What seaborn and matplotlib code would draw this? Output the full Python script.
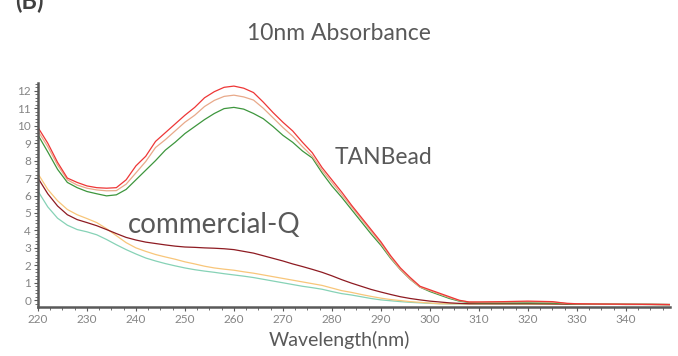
import matplotlib
matplotlib.use("Agg")
import matplotlib.pyplot as plt
import seaborn as sns
import pandas as pd
from matplotlib.ticker import AutoMinorLocator

# ---------------- data ----------------
wavelength = [220, 222, 224, 226, 228, 230, 232, 234, 236, 238,
              240, 242, 244, 246, 248, 250, 252, 254, 256, 258,
              260, 262, 264, 266, 268, 270, 272, 274, 276, 278,
              280, 282, 284, 286, 288, 290, 292, 294, 296, 298,
              300, 302, 304, 306, 308, 310, 315, 320, 325, 328,
              330, 335, 340, 345, 350]

tan_1 = [9.9, 9.0, 7.9, 7.0, 6.75, 6.55, 6.45, 6.42, 6.45, 6.9,
         7.7, 8.25, 9.1, 9.6, 10.1, 10.6, 11.05, 11.6, 11.95, 12.2,
         12.27, 12.15, 11.9, 11.35, 10.75, 10.2, 9.7, 9.05, 8.45, 7.6,
         6.9, 6.2, 5.45, 4.75, 4.05, 3.35, 2.55, 1.85, 1.3, 0.8,
         0.6, 0.4, 0.2, 0.0, -0.1, -0.1, -0.08, -0.05, -0.08, -0.18,
         -0.2, -0.22, -0.23, -0.24, -0.25]

tan_2 = [9.7, 8.8, 7.75, 6.9, 6.6, 6.42, 6.32, 6.27, 6.28, 6.65,
         7.3, 7.95, 8.75, 9.2, 9.7, 10.2, 10.6, 11.1, 11.45, 11.68,
         11.75, 11.65, 11.47, 11.0, 10.45, 9.9, 9.4, 8.8, 8.25, 7.45,
         6.75, 6.05, 5.35, 4.65, 3.95, 3.25, 2.45, 1.75, 1.2, 0.75,
         0.55, 0.35, 0.15, -0.02, -0.1, -0.1, -0.1, -0.08, -0.1, -0.18,
         -0.2, -0.22, -0.23, -0.24, -0.25]

tan_3 = [9.47, 8.5, 7.5, 6.75, 6.45, 6.23, 6.1, 5.98, 6.04, 6.35,
         6.9, 7.45, 8.0, 8.6, 9.05, 9.55, 9.95, 10.35, 10.7, 10.98,
         11.05, 10.95, 10.7, 10.4, 9.95, 9.45, 9.05, 8.55, 8.15, 7.3,
         6.55, 5.9, 5.2, 4.5, 3.8, 3.15, 2.4, 1.75, 1.2, 0.75,
         0.5, 0.3, 0.1, -0.05, -0.13, -0.15, -0.15, -0.15, -0.16, -0.2,
         -0.21, -0.22, -0.23, -0.24, -0.25]

com_1 = [7.0, 6.1, 5.4, 4.9, 4.62, 4.45, 4.27, 4.05, 3.82, 3.6,
         3.45, 3.33, 3.25, 3.17, 3.1, 3.05, 3.03, 3.0, 2.98, 2.95,
         2.9, 2.8, 2.7, 2.55, 2.4, 2.25, 2.08, 1.93, 1.77, 1.6,
         1.4, 1.18, 0.98, 0.8, 0.62, 0.47, 0.33, 0.2, 0.1, 0.02,
         -0.05, -0.1, -0.15, -0.18, -0.2, -0.2, -0.2, -0.2, -0.21, -0.22,
         -0.22, -0.23, -0.24, -0.24, -0.25]

com_2 = [7.25, 6.35, 5.7, 5.2, 4.9, 4.68, 4.45, 4.1, 3.7, 3.3,
         3.0, 2.8, 2.62, 2.48, 2.35, 2.2, 2.08, 1.95, 1.85, 1.78,
         1.72, 1.63, 1.55, 1.45, 1.35, 1.25, 1.15, 1.05, 0.95, 0.85,
         0.7, 0.55, 0.45, 0.33, 0.22, 0.12, 0.04, -0.02, -0.08, -0.12,
         -0.16, -0.2, -0.2, -0.2, -0.21, -0.21, -0.21, -0.22, -0.22, -0.22,
         -0.23, -0.23, -0.24, -0.24, -0.25]

com_3 = [6.25, 5.35, 4.7, 4.3, 4.05, 3.92, 3.75, 3.48, 3.18, 2.9,
         2.65, 2.42, 2.25, 2.1, 1.97, 1.85, 1.75, 1.67, 1.6, 1.52,
         1.45, 1.38, 1.3, 1.2, 1.1, 1.0, 0.9, 0.8, 0.72, 0.63,
         0.5, 0.38, 0.3, 0.2, 0.1, 0.02, -0.03, -0.08, -0.12, -0.15,
         -0.18, -0.2, -0.21, -0.21, -0.21, -0.21, -0.22, -0.22, -0.22, -0.23,
         -0.23, -0.23, -0.24, -0.24, -0.25]

series = {
    "tan_1": (tan_1, "#ee3636"),
    "tan_2": (tan_2, "#e8a98a"),
    "tan_3": (tan_3, "#3d963d"),
    "com_1": (com_1, "#8e1b22"),
    "com_2": (com_2, "#f8c67a"),
    "com_3": (com_3, "#86d2b6"),
}

x_ticks = [220, 230, 240, 250, 260, 270, 280, 290, 300, 310, 320, 330, 340]
y_ticks = list(range(0, 13))

# ---------------- plot ----------------
sns.set_theme(style="white")
plt.rcParams["font.family"] = ["Lato", "DejaVu Sans"]

fig = plt.figure(figsize=(6.78, 3.56), dpi=100)
ax = fig.add_axes([0.056, 0.138, 0.932, 0.629])

order = ["com_3", "com_2", "com_1", "tan_3", "tan_2", "tan_1"]
for name in order:
    vals, col = series[name]
    df = pd.DataFrame({"wl": wavelength, "abs": vals})
    sns.lineplot(data=df, x="wl", y="abs", color=col, linewidth=0.9, ax=ax)

ax.set_xlim(220, 349)
ax.set_ylim(-0.38, 12.45)
ax.set_xticks(x_ticks)
ax.set_yticks(y_ticks)
ax.xaxis.set_minor_locator(AutoMinorLocator(4))
ax.yaxis.set_minor_locator(AutoMinorLocator(5))
ax.set_xlabel("")
ax.set_ylabel("")

for s in ["top", "right"]:
    ax.spines[s].set_visible(False)
for s in ["left", "bottom"]:
    ax.spines[s].set_linewidth(1.8)
    ax.spines[s].set_color("#595959")

ax.tick_params(axis="both", which="major", direction="out", length=3,
               width=0.8, color="#595959", labelsize=8.5, labelcolor="#858585",
               left=True, bottom=True, pad=2)
ax.tick_params(axis="both", which="minor", direction="out", length=2,
               width=0.6, color="#595959", left=True, bottom=True)

txt = "#595959"
fig.text(0.5, 1 - 33 / 356, "10nm Absorbance", ha="center", va="center",
         fontsize=16.5, color=txt)
fig.text(0.5, 1 - 340 / 356, "Wavelength(nm)", ha="center", va="center",
         fontsize=14, color=txt)
fig.text(15 / 678, 0.995, "(B)", ha="left", va="center", fontsize=17,
         fontweight="bold", color="#404040")
ax.text(280.5, 8.15, "TANBead", ha="left", va="center", fontsize=16.5, color=txt)
ax.text(238.3, 4.33, "commercial-Q", ha="left", va="center", fontsize=20, color=txt)

fig.savefig("out.png", dpi=100)
